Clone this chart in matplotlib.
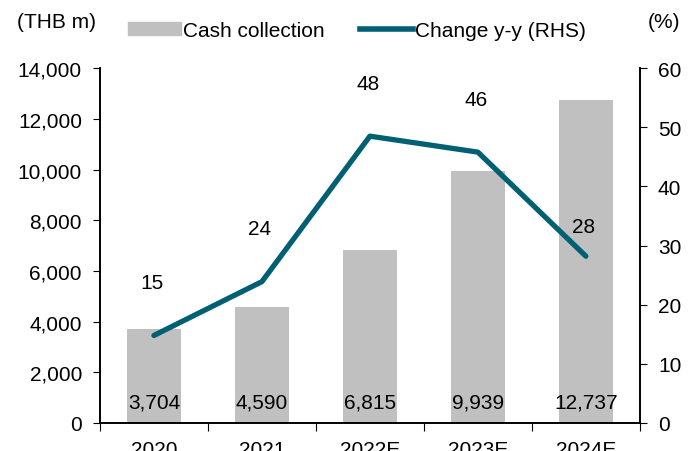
import matplotlib.pyplot as plt
from matplotlib.lines import Line2D
from matplotlib.patches import Patch

plt.rcParams['font.family'] = ['Liberation Sans', 'DejaVu Sans']
plt.rcParams['font.size'] = 15

# Data
years = ['2020', '2021', '2022E', '2023E', '2024E']
cash = [3704, 4590, 6815, 9939, 12737]
change = [15, 24, 48, 46, 28]
change_plot = [14.8, 23.9, 48.5, 45.8, 28.2]

bar_color = '#c0c0c0'
line_color = '#005f73'

fig = plt.figure(figsize=(6.94, 4.52), dpi=100)
ax = fig.add_axes([0.144, 0.062, 0.778, 0.785])
ax2 = ax.twinx()

x = list(range(len(years)))
ax.bar(x, cash, width=0.5, color=bar_color, zorder=1)
for xi, v in zip(x, cash):
    ax.text(xi, 830, '{:,}'.format(v), ha='center', va='center')

ax2.plot(x, change_plot, color=line_color, linewidth=3.8, solid_capstyle='round')
for i, (xi, v, lab) in enumerate(zip(x, change_plot, change)):
    off = 30 if i == len(x) - 1 else 53
    ax2.annotate(str(lab), (xi, v), xytext=(-2, off), textcoords='offset pixels',
                 ha='center', va='center')

ax.set_xlim(-0.5, len(years) - 0.5)
ax.set_ylim(0, 14000)
ax2.set_ylim(0, 60)
ax.set_yticks(range(0, 14001, 2000))
ax.set_yticklabels(['{:,}'.format(t) for t in range(0, 14001, 2000)])
ax2.set_yticks(range(0, 61, 10))

ax.set_xticks([i + 0.5 for i in range(-1, len(years))], minor=False)
ax.set_xticklabels([])
ax.set_xticks(x, minor=True)
ax.set_xticklabels(years, minor=True)
ax.tick_params(axis='x', which='minor', length=0, pad=12)
ax.tick_params(axis='x', which='major', length=6, direction='out')
ax.tick_params(axis='y', length=5, direction='out', pad=8)
ax2.tick_params(axis='y', length=5, direction='out', pad=8)

for a in (ax, ax2):
    a.spines['top'].set_visible(False)
    for s in ('left', 'right', 'bottom'):
        a.spines[s].set_linewidth(1.2)

fig.text(0.025, 0.95, '(THB m)', va='center')
fig.text(0.98, 0.95, '(%)', va='center', ha='right')

handles = [Patch(color=bar_color), Line2D([0], [0], color=line_color, linewidth=4)]
fig.legend(handles, ['Cash collection', 'Change y-y (RHS)'], loc='center',
           bbox_to_anchor=(0.514, 0.93), ncol=2, frameon=False,
           handlelength=2.55, handleheight=0.55, handletextpad=0.1, columnspacing=1.7)

fig.savefig('out.png', dpi=100)
